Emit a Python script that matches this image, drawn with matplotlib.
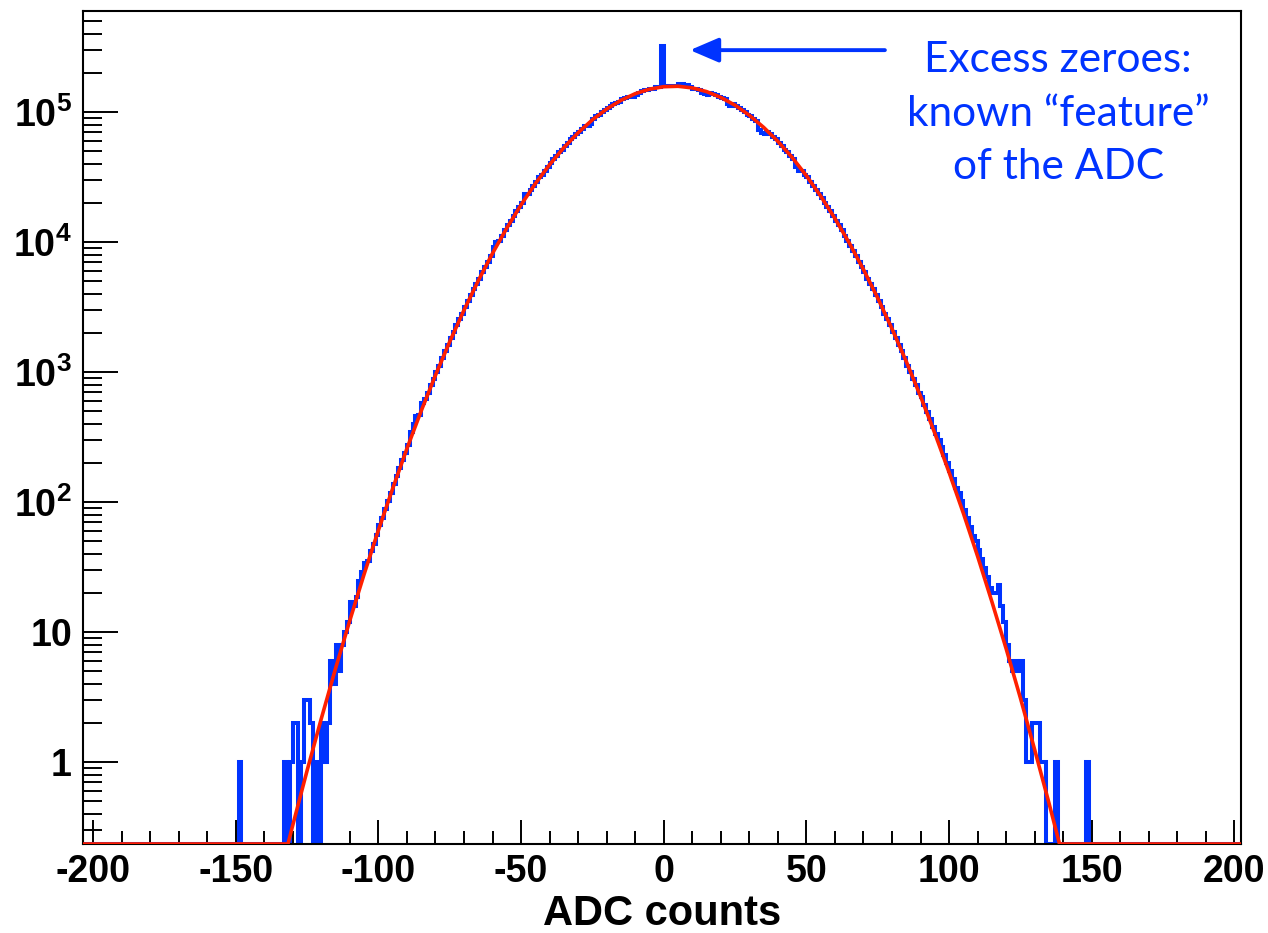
import numpy as np
import matplotlib
matplotlib.use('Agg')
import matplotlib.pyplot as plt
from matplotlib.ticker import FixedLocator, FixedFormatter, LogLocator, NullFormatter, MultipleLocator

# ADC pedestal histogram, 1 count wide bins, bin k covers [k, k+1]
first_bin = -149

# bins -149 .. -110, counts
left_tail_counts = [1,
                    0, 0, 0, 0, 0, 0, 0, 0, 0, 0, 0, 0, 0, 0, 0,
                    1, 0, 1, 2, 2, 0, 1, 3, 3, 2,
                    0, 1, 0, 2, 1, 2, 6, 4, 8, 5,
                    8, 10, 12, 17]

# bins -109 .. 113, log10(counts)
core_log10 = [
    1.20, 1.27, 1.39, 1.46, 1.53, 1.55, 1.62, 1.68, 1.75, 1.82,
    1.88, 1.95, 2.01, 2.07, 2.14, 2.20, 2.26, 2.32, 2.38, 2.44,
    2.54, 2.60, 2.66, 2.67, 2.76, 2.79, 2.84, 2.90, 2.95, 3.00,
    3.05, 3.11, 3.16, 3.21, 3.26, 3.31, 3.36, 3.41, 3.45, 3.50,
    3.55, 3.59, 3.64, 3.68, 3.72, 3.77, 3.81, 3.85, 3.89, 3.96,
    4.00, 4.01, 4.05, 4.09, 4.13, 4.16, 4.20, 4.24, 4.27, 4.30,
    4.37, 4.37, 4.40, 4.43, 4.46, 4.50, 4.52, 4.55, 4.58, 4.61,
    4.64, 4.66, 4.69, 4.71, 4.74, 4.76, 4.79, 4.81, 4.83, 4.85,
    4.87, 4.89, 4.89, 4.91, 4.95, 4.97, 4.98, 5.00, 5.02, 5.03,
    5.05, 5.06, 5.07, 5.08, 5.10, 5.11, 5.12, 5.12, 5.12, 5.13,
    5.15, 5.16, 5.17, 5.17, 5.18, 5.18, 5.19, 5.19, 5.51, 5.20,
    5.20, 5.20, 5.20, 5.20, 5.22, 5.22, 5.21, 5.21, 5.19, 5.18,
    5.18, 5.17, 5.15, 5.14, 5.13, 5.15, 5.14, 5.13, 5.12, 5.11,
    5.10, 5.06, 5.05, 5.06, 5.05, 5.03, 5.02, 5.00, 4.98, 4.97,
    4.95, 4.93, 4.86, 4.84, 4.83, 4.85, 4.83, 4.81, 4.79, 4.76,
    4.74, 4.71, 4.69, 4.66, 4.64, 4.58, 4.55, 4.55, 4.52, 4.50,
    4.46, 4.43, 4.40, 4.37, 4.34, 4.30, 4.27, 4.24, 4.20, 4.16,
    4.13, 4.09, 4.05, 4.01, 3.97, 3.93, 3.89, 3.85, 3.81, 3.77,
    3.72, 3.68, 3.64, 3.59, 3.55, 3.50, 3.45, 3.41, 3.36, 3.31,
    3.26, 3.21, 3.16, 3.11, 3.05, 3.00, 2.95, 2.90, 2.84, 2.81,
    2.75, 2.69, 2.64, 2.58, 2.52, 2.48, 2.42, 2.36, 2.30, 2.24,
    2.18, 2.11, 2.07, 2.01, 1.94, 1.88, 1.81, 1.74, 1.70, 1.63,
    1.56, 1.49, 1.42]

# bins 114 .. 148, counts
right_tail_counts = [22, 20, 20, 23, 16, 12, 8, 6, 5, 6,
                     5, 6, 3, 1, 1, 2, 2, 2, 1, 1,
                     0, 0, 0, 1,
                     0, 0, 0, 0, 0, 0, 0, 0, 0, 0,
                     1]

# gaussian fit (red)
fit_x = [-204, -131.7, -130, -125, -120, -115, -110, -105, -100, -95, -90, -85,
         -80, -75, -70, -65, -60, -55, -50, -45, -40, -35, -30, -25, -20,
         -15, -10, -5, 0, 5, 10, 15, 20, 25, 30, 35, 40, 45, 50, 55, 60,
         65, 70, 75, 80, 85, 90, 95, 100, 105, 110, 115, 120, 125, 130,
         135, 138.7, 203]
fit_y = [0.234, 0.234, 0.327, 0.857, 2.16, 5.26, 12.3, 27.9, 60.7, 127, 258, 503,
         946, 1714, 2999, 5047, 8204, 12830, 19360, 28180, 39450, 53330, 69500,
         87300, 105700, 123300, 138700, 150300, 157000, 158200, 153700, 143900,
         129800, 113000, 94600, 76400, 59600, 44800, 32400, 22600, 15200, 9860,
         6150, 3710, 2150, 1205, 650, 338, 169, 82, 38.2, 17.1, 7.43, 3.10,
         1.24, 0.483, 0.234, 0.234]

y_ticks = [1, 10, 100, 1e3, 1e4, 1e5]
y_ticklabels = ['1', '10', r'$\mathbf{10}^{\mathbf{2}}$', r'$\mathbf{10}^{\mathbf{3}}$',
                r'$\mathbf{10}^{\mathbf{4}}$', r'$\mathbf{10}^{\mathbf{5}}$']

blue = '#0033ff'
red = '#ff2000'
y_bottom = 0.234

plt.rcParams['font.family'] = ['Liberation Sans', 'DejaVu Sans']
plt.rcParams['mathtext.fontset'] = 'custom'
plt.rcParams['mathtext.bf'] = 'Liberation Sans:bold'
plt.rcParams['mathtext.rm'] = 'Liberation Sans'
plt.rcParams['axes.unicode_minus'] = False

fig = plt.figure(figsize=(12.68, 9.33), dpi=100)
ax = fig.add_axes([0.0655, 0.0954, 0.913, 0.8928])

counts = np.concatenate([left_tail_counts, 10 ** np.array(core_log10), right_tail_counts])
edges = np.arange(-204, 204)
full = np.zeros(len(edges) - 1)
start = first_bin - edges[0]
full[start:start + len(counts)] = counts
# empty bins are drawn on the bottom of the frame like ROOT does
heights = np.where(full > 0, full, y_bottom)

ax.stairs(heights, edges, baseline=None, color=blue, linewidth=2.9, zorder=2)
ax.plot(fit_x, fit_y, color=red, linewidth=2.6, zorder=3)

ax.set_yscale('log')
ax.set_xlim(-203.5, 202.2)
ax.set_ylim(y_bottom, 6.0e5)

ax.xaxis.set_major_locator(MultipleLocator(50))
ax.xaxis.set_minor_locator(MultipleLocator(10))
ax.yaxis.set_major_locator(FixedLocator(y_ticks))
ax.yaxis.set_major_formatter(FixedFormatter(y_ticklabels))
ax.yaxis.set_minor_locator(LogLocator(base=10, subs=np.arange(2, 10)))
ax.yaxis.set_minor_formatter(NullFormatter())

ax.tick_params(axis='both', which='both', direction='in', top=False, right=False, width=1.4)
ax.tick_params(axis='x', which='major', length=17, pad=7)
ax.tick_params(axis='x', which='minor', length=9.5)
ax.tick_params(axis='y', which='major', length=25, pad=8)
ax.tick_params(axis='y', which='minor', length=13.5)
for lab in ax.get_xticklabels() + ax.get_yticklabels():
    lab.set_fontsize(27)
    lab.set_fontweight('bold')

for s in ax.spines.values():
    s.set_linewidth(1.5)

ax.set_xlabel('ADC counts', fontsize=30, fontweight='bold', labelpad=3)

ax.annotate('', xy=(9.2, 3.0e5), xytext=(77.5, 3.0e5),
            arrowprops=dict(arrowstyle='-|>,head_length=0.7,head_width=0.3',
                            mutation_scale=25, color=blue, lw=2.8,
                            shrinkA=0, shrinkB=0))
ax.text(138.2, 0.97e5, 'Excess zeroes:\nknown \u201cfeature\u201d\nof the ADC',
        ha='center', va='center', fontsize=30.5, family=['Lato', 'DejaVu Sans'],
        color=blue, linespacing=1.5)

fig.savefig('out.png', dpi=100)
